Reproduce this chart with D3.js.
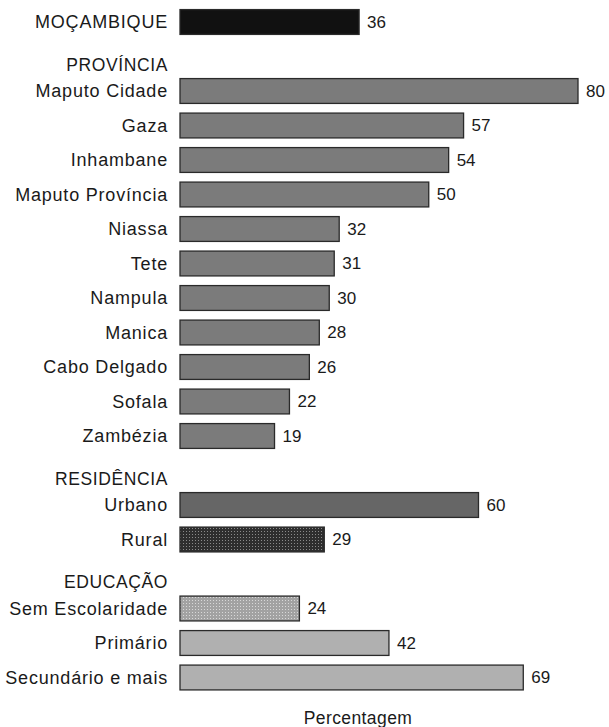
<!DOCTYPE html>
<html>
<head>
  <meta charset="utf-8">
  <script src="https://d3js.org/d3.v7.min.js"></script>
  <style>
    body { margin: 0; background: #fff; }
    text { font-family: "Liberation Sans", Arial, Helvetica, sans-serif; fill: #1a1a1a; }
  </style>
</head>
<body>
  <div id="chart"></div>
  <script>
    // data
    var nationalLabels = ["MOÇAMBIQUE"];
    var nationalValues = [36];

    var provinceLabels = ["Maputo Cidade", "Gaza", "Inhambane", "Maputo Província", "Niassa",
                          "Tete", "Nampula", "Manica", "Cabo Delgado", "Sofala", "Zambézia"];
    var provinceValues = [80, 57, 54, 50, 32, 31, 30, 28, 26, 22, 19];

    var residenceLabels = ["Urbano", "Rural"];
    var residenceValues = [60, 29];

    var educationLabels = ["Sem Escolaridade", "Primário", "Secundário e mais"];
    var educationValues = [24, 42, 69];

    var groupHeaders = ["PROVÍNCIA", "RESIDÊNCIA", "EDUCAÇÃO"];
    var axisTitle = "Percentagem";

    // build rows (headers take a slot of their own)
    var rows = [];
    function addGroup(header, labels, values, group) {
      if (header) rows.push({ key: "h-" + header, label: header, header: true });
      labels.forEach(function(l, i) {
        rows.push({ key: group + "-" + l, label: l, value: values[i], group: group });
      });
    }
    addGroup(null, nationalLabels, nationalValues, "nat");
    addGroup(groupHeaders[0], provinceLabels, provinceValues, "prov");
    addGroup(groupHeaders[1], residenceLabels, residenceValues, "res");
    addGroup(groupHeaders[2], educationLabels, educationValues, "edu");

    var fills = { nat: "#111111", prov: "#7b7b7b", res: "#666666", edu: "#b0b0b0" };
    var special = { "res-Rural": "url(#stipple)", "edu-Sem Escolaridade": "url(#dots)" };

    var width = 609, height = 727;
    var svg = d3.select("#chart")
                .append("svg")
                .attr("width", width)
                .attr("height", height);

    var defs = svg.append("defs");
    var p1 = defs.append("pattern").attr("id", "stipple").attr("patternUnits", "userSpaceOnUse")
                 .attr("width", 3).attr("height", 3);
    p1.append("rect").attr("width", 3).attr("height", 3).attr("fill", "#2e2e2e");
    p1.append("rect").attr("width", 1).attr("height", 1).attr("fill", "#8a8a8a");
    var p2 = defs.append("pattern").attr("id", "dots").attr("patternUnits", "userSpaceOnUse")
                 .attr("width", 3).attr("height", 3);
    p2.append("rect").attr("width", 3).attr("height", 3).attr("fill", "#a2a2a2");
    p2.append("rect").attr("width", 1).attr("height", 1).attr("fill", "#d8d8d8");

    var xScale = d3.scaleLinear()
                   .domain([0, 80])
                   .range([180, 578]);

    var yScale = d3.scaleBand()
                   .domain(rows.map(function(d) { return d.key; }))
                   .range([4.75, 694.75])
                   .paddingInner(0.28)
                   .paddingOuter(0.14);

    var labelX = 168;

    var bars = rows.filter(function(d) { return !d.header; });
    var headers = rows.filter(function(d) { return d.header; });

    // bars
    svg.selectAll("rect.bar")
       .data(bars)
       .enter()
       .append("rect")
       .attr("class", "bar")
       .attr("x", xScale(0))
       .attr("y", function(d) { return yScale(d.key); })
       .attr("width", function(d) { return xScale(d.value) - xScale(0); })
       .attr("height", yScale.bandwidth())
       .attr("fill", function(d) { return special[d.key] || fills[d.group]; })
       .attr("stroke", "#2a2a2a")
       .attr("stroke-width", 1.3);

    // category labels
    svg.selectAll("text.cat")
       .data(bars)
       .enter()
       .append("text")
       .attr("class", "cat")
       .attr("x", labelX)
       .attr("y", function(d) { return yScale(d.key) + yScale.bandwidth() / 2; })
       .attr("dy", "0.35em")
       .attr("text-anchor", "end")
       .style("font-size", "18px")
       .style("letter-spacing", "0.8px")
       .text(function(d) { return d.label; });

    // value labels
    svg.selectAll("text.val")
       .data(bars)
       .enter()
       .append("text")
       .attr("class", "val")
       .attr("x", function(d) { return xScale(d.value) + 8; })
       .attr("y", function(d) { return yScale(d.key) + yScale.bandwidth() / 2; })
       .attr("dy", "0.35em")
       .style("font-size", "17px")
       .text(function(d) { return d.value; });

    // group headers
    svg.selectAll("text.head")
       .data(headers)
       .enter()
       .append("text")
       .attr("class", "head")
       .attr("x", labelX)
       .attr("y", function(d) { return yScale(d.key) + yScale.bandwidth() / 2 + 8; })
       .attr("dy", "0.35em")
       .attr("text-anchor", "end")
       .style("font-size", "17.5px")
       .style("letter-spacing", "0.6px")
       .text(function(d) { return d.label; });

    // axis title
    svg.append("text")
       .attr("x", 358)
       .attr("y", 718)
       .attr("dy", "0.35em")
       .attr("text-anchor", "middle")
       .style("font-size", "17.5px")
       .style("letter-spacing", "0.4px")
       .text(axisTitle);
  </script>
</body>
</html>
